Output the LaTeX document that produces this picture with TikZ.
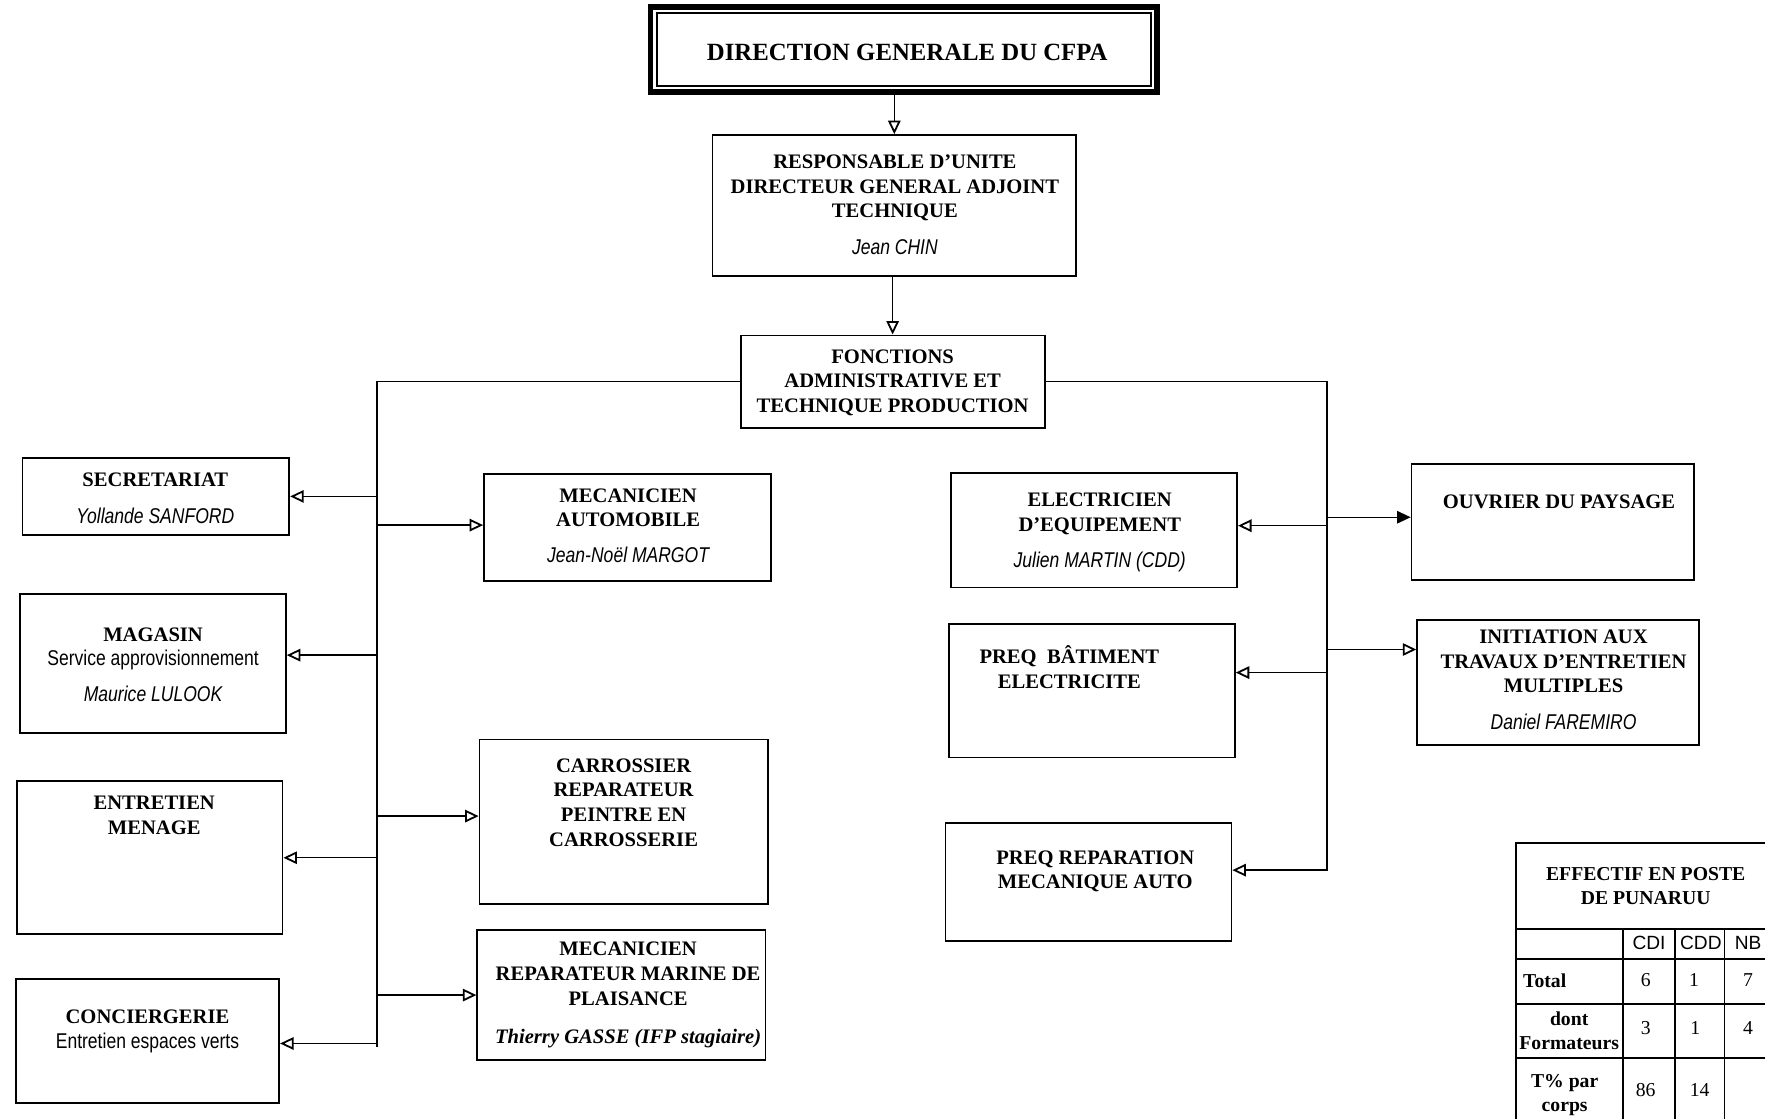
\documentclass[tikz,border=0pt]{standalone}
\usepackage{fontspec}
\setmainfont{Liberation Serif}
\newfontfamily\narrowsf[FakeStretch=0.82]{Liberation Sans}
\newfontfamily\plainsf{Liberation Sans}
\usetikzlibrary{arrows.meta}
\newcommand{\who}[1]{{\narrowsf\mdseries\itshape\fontsize{19}{22}\selectfont #1}}
\newcommand{\svc}[1]{{\narrowsf\mdseries\fontsize{19}{22}\selectfont #1}}

\begin{document}
\begin{tikzpicture}[x=1pt,y=-1pt,
  box/.style={draw,line width=1.6pt,inner sep=0pt},
  txt/.style={align=center,inner sep=0pt,font=\fontsize{18.3}{22}\selectfont\bfseries},
  tab/.style={align=center,inner sep=0pt,font=\fontsize{17.5}{21}\selectfont\bfseries},
  num/.style={inner sep=0pt,font=\fontsize{17.5}{21}\selectfont},
  arr/.style={line width=1.3pt,-{Triangle[open,length=12pt,width=11pt,line width=1.6pt]}},
  bus/.style={line width=1.3pt}]
\useasboundingbox (0,0) rectangle (1568,994);

\node[box,line width=5pt,minimum width=450,minimum height=76] (dir) at (803,44) {};
\draw[line width=1.4pt] ([shift={(8,8)}]dir.north west) rectangle ([shift={(-8,-8)}]dir.south east);
\node[txt,font=\fontsize{22}{26}\selectfont\bfseries] (dirT) at (806,47) {DIRECTION GENERALE DU CFPA};

\node[box,minimum width=323,minimum height=125] (resp) at (794.5,182.5) {};
\node[txt] (respT) at (795,182) {RESPONSABLE D’UNITE\\DIRECTEUR GENERAL ADJOINT\\TECHNIQUE\\[11pt]\who{Jean CHIN}};

\node[box,minimum width=270,minimum height=82] (fon) at (793,339) {};
\node[txt] (fonT) at (793,340) {FONCTIONS\\ADMINISTRATIVE ET\\TECHNIQUE PRODUCTION};

\node[box,minimum width=237,minimum height=68] (sec) at (138.5,441) {};
\node[txt] (secT) at (138,442.5) {SECRETARIAT\\[11pt]\who{Yollande SANFORD}};
\node[box,minimum width=236,minimum height=123] (mag) at (136,589.5) {};
\node[txt] (magT) at (136,590.5) {MAGASIN\\\svc{Service approvisionnement}\\[10pt]\who{Maurice LULOOK}};
\node[box,minimum width=236,minimum height=136] (ent) at (133,762) {};
\node[txt] (entT) at (137,724) {ENTRETIEN\\MENAGE};
\node[box,minimum width=234,minimum height=110] (con) at (131,925) {};
\node[txt] (conT) at (131,916) {CONCIERGERIE\\\svc{Entretien espaces verts}};

\node[box,minimum width=255,minimum height=95] (mau) at (557.5,468.5) {};
\node[txt] (mauT) at (558,467) {MECANICIEN\\AUTOMOBILE\\[10pt]\who{Jean-Noël MARGOT}};
\node[box,minimum width=256,minimum height=146] (car) at (554,730) {};
\node[txt] (carT) at (554,713) {CARROSSIER\\REPARATEUR\\PEINTRE EN\\CARROSSERIE};
\node[box,minimum width=256,minimum height=116] (mar) at (552,884) {};
\node[txt] (marT) at (558,884) {MECANICIEN\\REPARATEUR MARINE DE\\PLAISANCE\\[12pt]\itshape Thierry GASSE (IFP stagiaire)};

\node[box,minimum width=254,minimum height=102] (ele) at (972,471) {};
\node[txt] (eleT) at (977,473) {ELECTRICIEN\\D’EQUIPEMENT\\[10pt]\who{Julien MARTIN (CDD)}};
\node[box,minimum width=254,minimum height=119] (pbe) at (970,613.5) {};
\node[txt] (pbeT) at (950,593) {PREQ\ \ BÂTIMENT\\ELECTRICITE};
\node[box,minimum width=254,minimum height=105] (prr) at (967,783.5) {};
\node[txt] (prrT) at (973,774) {PREQ REPARATION\\MECANIQUE AUTO};

\node[box,minimum width=251,minimum height=103] (ouv) at (1379.5,463.5) {};
\node[txt] (ouvT) at (1385,446) {OUVRIER DU PAYSAGE};
\node[box,minimum width=250,minimum height=111] (ini) at (1384,606.5) {};
\node[txt] (iniT) at (1389,604) {INITIATION AUX\\TRAVAUX D’ENTRETIEN\\MULTIPLES\\[11pt]\who{Daniel FAREMIRO}};

\draw[arr] (resp.north |- dir.south) -- (resp.north);
\draw[arr] (fon.north |- resp.south) -- (fon.north);

\coordinate (lbEnd) at (335,930);
\coordinate (rbEnd) at (1179,773);
\draw[bus] (fon.west) -| (lbEnd);
\foreach \b/\s in {sec/0,mag/7.5,ent/0,con/-2} {
  \path ([yshift=\s pt]\b.east) coordinate (\b In);
  \draw[arr] (lbEnd |- \b In) -- (\b In);
}
\foreach \b/\s in {mau/2,car/5,mar/0} {
  \path ([yshift=\s pt]\b.west) coordinate (\b In);
  \draw[arr] (lbEnd |- \b In) -- (\b In);
}
\path ([yshift=10.5pt]prr.east) coordinate (prrIn);
\draw[arr] (fon.east) -| (rbEnd |- prrIn) -- (prrIn);
\foreach \b/\s in {ele/4,pbe/16} {
  \path ([yshift=\s pt]\b.east) coordinate (\b In);
  \draw[arr] (rbEnd |- \b In) -- (\b In);
}
\path ([yshift=4pt]ouv.west) coordinate (ouvIn);
\draw[bus,-{Triangle[length=12pt,width=11pt]}] (rbEnd |- ouvIn) -- (ouvIn);
\path ([yshift=29.5pt]ini.west) coordinate (iniIn);
\draw[arr] (rbEnd |- iniIn) -- (iniIn);

\begin{scope}
\clip (0,0) rectangle (1568,994);
\draw[line width=1.6pt] (1347,1010) -- (1347,749) -- (1590,749);
\foreach \y in {825,852,892,940} \draw[line width=1.6pt] (1347,\y) -- (1590,\y);
\foreach \x in {1442,1488,1532} \draw[line width=1.6pt] (\x,825) -- (\x,1010);
\node[tab] (effT) at (1462,787) {EFFECTIF EN POSTE\\DE PUNARUU};
\node[num,font=\plainsf\fontsize{17}{20}\selectfont] (cdi) at (1465,838) {CDI};
\node[num,font=\plainsf\fontsize{17}{20}\selectfont] (cdd) at (1511,838) {CDD};
\node[num,font=\plainsf\fontsize{17}{20}\selectfont] (nb) at (1553,838) {NB};
\node[tab,anchor=west] (tot) at (1353,871) {Total};
\node[tab] (frm) at (1394,916) {dont\\Formateurs};
\node[tab] (pct) at (1390,973) {T\% par\\corps};
\foreach \v/\x/\y [count=\i] in {6/1462/871,1/1505/871,7/1553/871,3/1462/913,1/1506/913,4/1553/913,86/1462/968,14/1510/968}
  \node[num] (v\i) at (\x,\y) {\v};
\end{scope}
\end{tikzpicture}
\end{document}
